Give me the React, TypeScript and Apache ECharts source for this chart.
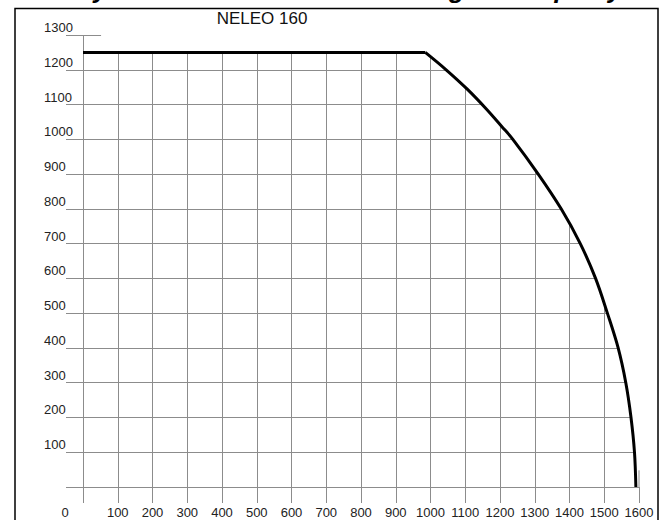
import React, { useEffect, useRef } from "react";
import * as echarts from "echarts";

// Load diagram values
const flatX = [0, 985];
const flatY = [1250, 1250];
const curveX = [985, 1045, 1105, 1160, 1205, 1237, 1310, 1376, 1431, 1475, 1509, 1540, 1562, 1577, 1587, 1591];
const curveY = [1250, 1200, 1145, 1088, 1037, 1000, 900, 800, 700, 600, 500, 400, 300, 200, 100, 0];
// remnant of the top grid border (end of stub) and the 1600 vertical stub
const topStubEnd = 52;
const rightStubX = [1600, 1600];
const rightStubY = [0, 48];
const xMax = 1600;
const yMax = 1300;
const tickStep = 100;
const titleText = "NELEO 160";
const headerText = "Safety: rated outreach and working envelope by";

const GRID = "#8c8c8c";
const FONT = "'Liberation Sans', Arial, sans-serif";

export default function App() {
  const ref = useRef<HTMLDivElement>(null);
  useEffect(() => {
    if (!ref.current) return;
    const chart = echarts.init(ref.current, null, { renderer: "svg" });
    const flat = flatX.map((x, i) => [x, flatY[i]]);
    const curve = curveX.map((x, i) => [x, curveY[i]]);
    const stub = rightStubX.map((x, i) => [x, rightStubY[i]]);
    const cover = [[topStubEnd, flatY[0]], ...curve, [xMax, rightStubY[1]]];
    chart.setOption({
      animation: false,
      backgroundColor: "#fff",
      grid: { left: 83, right: 26, top: 35, bottom: 33, containLabel: false },
      xAxis: {
        type: "value",
        min: 0,
        max: xMax,
        interval: tickStep,
        axisLine: { show: false },
        axisTick: { show: true, length: 16, lineStyle: { color: GRID, width: 1 } },
        splitLine: { show: true, showMaxLine: false, lineStyle: { color: GRID, width: 1 } },
        axisLabel: {
          margin: 19,
          color: "#222",
          fontSize: 13,
          fontFamily: FONT,
          formatter: (v: number) => (v === 0 ? "{z|0}" : String(v)),
          rich: { z: { padding: [0, 36, 0, 0], fontSize: 13, fontFamily: FONT, color: "#222" } },
        },
      },
      yAxis: {
        type: "value",
        min: 0,
        max: yMax,
        interval: tickStep,
        axisLine: { show: false },
        axisTick: { show: true, length: 17, lineStyle: { color: GRID, width: 1 } },
        splitLine: { show: true, lineStyle: { color: GRID, width: 1 } },
        axisLabel: {
          margin: 39,
          align: "left",
          verticalAlign: "bottom",
          padding: [0, 0, 1, 0],
          color: "#222",
          fontSize: 13,
          fontFamily: FONT,
          formatter: (v: number) => (v === 0 ? "" : String(v)),
        },
      },
      series: [
        {
          type: "line",
          data: cover,
          showSymbol: false,
          silent: true,
          z: 2,
          lineStyle: { width: 0, opacity: 0 },
          areaStyle: { color: "#fff", opacity: 1, origin: "end" },
        },
        {
          type: "line",
          data: stub,
          showSymbol: false,
          silent: true,
          z: 2,
          lineStyle: { color: GRID, width: 1 },
        },
        {
          type: "line",
          data: flat,
          showSymbol: false,
          z: 3,
          lineStyle: { color: "#000", width: 3, cap: "butt" },
        },
        {
          type: "line",
          data: curve,
          showSymbol: false,
          smooth: 0.35,
          z: 3,
          lineStyle: { color: "#000", width: 3 },
        },
      ],
      graphic: [
        {
          type: "rect",
          shape: { x: 15, y: 8.5, width: 643, height: 530 },
          style: { fill: "none", stroke: "#000", lineWidth: 1.5 },
          silent: true,
        },
        {
          type: "text",
          x: 262,
          y: 18,
          style: {
            text: titleText,
            fontSize: 17,
            fontFamily: FONT,
            fill: "#111",
            align: "center",
            verticalAlign: "middle",
          },
        },
        {
          type: "text",
          x: 30,
          y: -11,
          style: {
            text: headerText,
            fontSize: 26,
            fontWeight: "bold",
            fontStyle: "italic",
            fontFamily: FONT,
            fill: "#000",
            align: "left",
            verticalAlign: "middle",
          },
        },
      ],
    });
    return () => chart.dispose();
  }, []);
  return <div ref={ref} style={{ width: 665, height: 520, position: "absolute", left: 0, top: 0 }} />;
}
